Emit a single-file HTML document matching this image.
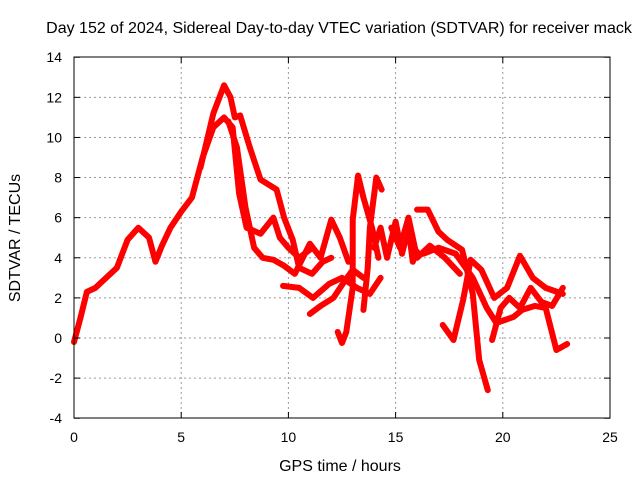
<!DOCTYPE html>
<html><head><meta charset="utf-8"><style>
body{margin:0;background:#fff}
svg text{font-family:"Liberation Sans",sans-serif;font-size:14px;fill:#000}
svg text.big{font-size:16px}
</style></head><body>
<svg id="chart" width="640" height="480">
<rect width="640" height="480" fill="#fff"/>
<g id="grid"></g><g id="series"></g><g id="axes"></g>
<text class="big" x="339" y="33" text-anchor="middle">Day 152 of 2024, Sidereal Day-to-day VTEC variation (SDTVAR) for receiver mack</text>
<text class="big" x="340" y="471" text-anchor="middle">GPS time / hours</text>
<text class="big" transform="translate(20,238) rotate(-90)" text-anchor="middle">SDTVAR / TECUs</text>
</svg>
<script>
const xTicks=[0,5,10,15,20,25];
const yTicks=[-4,-2,0,2,4,6,8,10,12,14];
const sA=[[0,-0.2],[0.3,1],[0.6,2.3],[1,2.5],[1.5,3],[2,3.5],[2.5,4.9],[3,5.5],[3.5,5],[3.8,3.8],[4.1,4.6],[4.5,5.5],[5,6.3],[5.5,7],[6,9],[6.5,10.5],[7,11],[7.4,10.5],[7.7,7.2],[8.05,5.5],[8.7,5.2],[9.3,6.0],[9.6,5.0],[10,4.5],[10.5,4.0],[11,4.4]];
const sB=[[5.9,8.5],[6.5,11.2],[7,12.6],[7.3,12.0],[7.5,11.0],[7.75,11.1],[8.2,9.5],[8.7,7.9],[9.45,7.4],[9.8,6.0],[10.2,4.9],[10.5,3.5],[11.1,3.2],[11.6,3.8],[12.0,4.0]];
const sC=[[7.2,10.8],[7.6,9.5],[8.0,6.5],[8.4,4.5],[8.8,4.0],[9.3,3.9],[9.8,3.6],[10.3,3.2],[11.0,4.7],[11.5,4.0],[12.0,5.9],[12.4,5.0],[12.8,3.8]];
const sD=[[9.75,2.6],[10.5,2.5],[11.15,2.0],[11.9,2.7],[12.5,3.0],[13.2,2.5],[13.8,2.2],[14.3,3.0]];
const sE=[[11.0,1.2],[11.5,1.6],[12.1,2.0],[12.6,2.8],[13.0,3.4],[13.5,3.0]];
const sF=[[12.3,0.3],[12.5,-0.25],[12.7,0.3],[13.0,2.5],[13.0,5.9],[13.25,8.1],[13.5,7.0],[13.9,5.5],[14.2,4.0]];
const sG=[[13.5,1.4],[13.7,3.5],[13.8,5.5],[14.1,8.0],[14.35,7.4]];
const sH=[[14.0,4.5],[14.3,5.5],[14.6,4.0],[15.0,5.8],[15.3,4.2],[15.6,5.5],[15.8,3.8],[16.0,4.3]];
const sI=[[16.0,6.4],[16.5,6.4],[17.0,5.3],[17.4,4.9],[18.1,4.4],[18.6,2.2],[18.9,-1.1],[19.3,-2.6]];
const sJ=[[17.2,0.65],[17.7,-0.1],[18.15,1.9],[18.5,3.9],[19.0,3.4],[19.6,2.0],[20.2,2.5],[20.8,4.1],[21.4,3.0],[22.0,2.5],[22.8,2.2]];
const sK=[[16.3,4.2],[17.0,4.5],[17.8,4.2],[18.6,3.0],[19.25,1.5],[19.7,0.75],[20.5,1.05],[20.9,1.4],[21.5,1.6],[22.0,1.5],[22.5,-0.6],[23.0,-0.3]];
const sL=[[19.5,-0.1],[19.9,1.5],[20.3,2.0],[20.8,1.5],[21.3,2.5],[21.8,1.8],[22.3,1.6],[22.8,2.5]];
const sM=[[14.8,5.5],[15.2,4.5],[15.6,6.0],[16.0,4.0],[16.6,4.6],[17.3,4.0],[18.0,3.2]];
const series=[sA,sB,sC,sD,sE,sF,sG,sH,sI,sJ,sK,sL,sM];
const X=h=>74+h*(536/25), Y=v=>338-v*(361/18);
const NS="http://www.w3.org/2000/svg";
function mk(t,a,p){const e=document.createElementNS(NS,t);for(const k in a)e.setAttribute(k,a[k]);p.appendChild(e);return e;}
const grid=document.getElementById('grid'),axes=document.getElementById('axes'),sg=document.getElementById('series');
xTicks.forEach(t=>{
  if(t>0&&t<25){const l=mk('line',{x1:X(t),x2:X(t),y1:57,y2:418,stroke:'#999','stroke-dasharray':'2,3'},grid);
  
  }
  mk('line',{x1:X(t),x2:X(t),y1:418,y2:412,stroke:'#000'},axes);
  mk('line',{x1:X(t),x2:X(t),y1:57,y2:63,stroke:'#000'},axes);
  const tx=mk('text',{x:X(t),y:442,'text-anchor':'middle'},axes);tx.textContent=t;
  
  
});
yTicks.forEach(t=>{
  if(t>-4&&t<14){const l=mk('line',{x1:74,x2:610,y1:Y(t),y2:Y(t),stroke:'#999','stroke-dasharray':'2,3'},grid);
  
  }
  mk('line',{x1:74,x2:80,y1:Y(t),y2:Y(t),stroke:'#000'},axes);
  mk('line',{x1:610,x2:604,y1:Y(t),y2:Y(t),stroke:'#000'},axes);
  const tx=mk('text',{x:62,y:Y(t)+5,'text-anchor':'end'},axes);tx.textContent=t;
  
  
});
const fr=mk('rect',{x:74,y:57,width:536,height:361,fill:'none',stroke:'#000'},axes);


series.forEach(s=>{
  const p=mk('polyline',{points:s.map(d=>X(d[0])+','+Y(d[1])).join(' '),fill:'none',stroke:'#f00','stroke-width':6,'stroke-linejoin':'round','stroke-linecap':'round'},sg);
  
  
});
</script>
</body></html>
